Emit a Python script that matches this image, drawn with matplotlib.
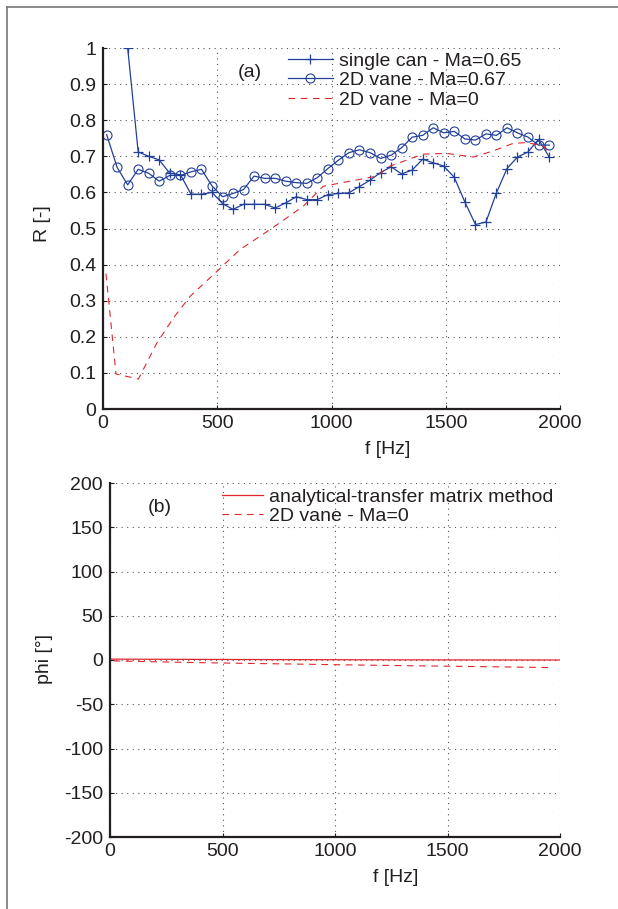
import matplotlib
matplotlib.use("Agg")
import matplotlib.pyplot as plt
from matplotlib.lines import Line2D

plt.rcParams['font.family'] = ['Liberation Sans', 'DejaVu Sans']
plt.rcParams['font.size'] = 14

# frequencies of the measured points [Hz]
freq = [16, 62, 108, 154, 200, 246, 292, 339, 385, 431, 477, 523, 569, 615,
        661, 707, 754, 800, 846, 892, 938, 984, 1030, 1076, 1122, 1169, 1215,
        1261, 1307, 1353, 1399, 1445, 1491, 1537, 1584, 1630, 1676, 1722,
        1768, 1814, 1860, 1906, 1953]

# single can - Ma=0.65 (starts at the third frequency)
freq_can = freq[2:]
R_can = [1.0, 0.712, 0.70, 0.69, 0.653, 0.649, 0.595, 0.595, 0.60, 0.569,
         0.553, 0.567, 0.567, 0.567, 0.557, 0.571, 0.588, 0.58, 0.58, 0.594,
         0.597, 0.599, 0.616, 0.634, 0.655, 0.671, 0.651, 0.662, 0.692,
         0.682, 0.673, 0.642, 0.573, 0.511, 0.518, 0.599, 0.666, 0.698,
         0.712, 0.747, 0.698]

# 2D vane - Ma=0.67
R_vane = [0.760, 0.669, 0.621, 0.664, 0.653, 0.631, 0.647, 0.647, 0.657,
          0.664, 0.618, 0.588, 0.597, 0.608, 0.645, 0.639, 0.639, 0.631,
          0.627, 0.625, 0.641, 0.666, 0.689, 0.710, 0.718, 0.710, 0.694,
          0.703, 0.724, 0.753, 0.758, 0.779, 0.765, 0.769, 0.748, 0.745,
          0.762, 0.758, 0.779, 0.765, 0.753, 0.731, 0.731]

# 2D vane - Ma=0
freq_m0 = [13, 57, 155, 235, 308, 381, 498, 600, 731, 877, 964, 1081, 1198,
           1256, 1402, 1504, 1621, 1708, 1796, 1854, 1927, 1956]
R_m0 = [0.375, 0.097, 0.083, 0.182, 0.252, 0.312, 0.381, 0.442, 0.497,
        0.562, 0.617, 0.631, 0.645, 0.673, 0.706, 0.708, 0.698, 0.715,
        0.736, 0.738, 0.729, 0.703]

# phase: analytical-transfer matrix method and 2D vane - Ma=0
freq_an = [0, 500, 1000, 1500, 2000]
phi_an = [1.0, 0.6, 0.3, 0.1, 0.0]
freq_phi = [16, 200, 400, 600, 800, 1000, 1200, 1400, 1600, 1800, 1953]
phi_m0 = [-1, -2, -3, -3.8, -4.5, -5.3, -6, -6.7, -7.3, -8, -8.5]

xticks = [0, 500, 1000, 1500, 2000]
R_ticks = [0, 0.1, 0.2, 0.3, 0.4, 0.5, 0.6, 0.7, 0.8, 0.9, 1]
R_labels = ['0', '0.1', '0.2', '0.3', '0.4', '0.5', '0.6', '0.7', '0.8', '0.9', '1']
phi_ticks = [-200, -150, -100, -50, 0, 50, 100, 150, 200]

blue = '#22409a'
red = '#e2262d'
dark = '#231f20'

W, H = 618, 909
fig = plt.figure(figsize=(W / 100, H / 100), dpi=100)

def fbox(l, t, r, b):
    return [l / W, 1 - b / H, (r - l) / W, (b - t) / H]

ax1 = fig.add_axes(fbox(103, 48, 560, 409))
ax2 = fig.add_axes(fbox(110, 483, 560, 837))

for ax in (ax1, ax2):
    for s in ('top', 'right'):
        ax.spines[s].set_visible(False)
    for s in ('left', 'bottom'):
        ax.spines[s].set_linewidth(1.6)
        ax.spines[s].set_color(dark)
    ax.grid(True, linestyle=(0, (1, 4)), color='#555555', linewidth=0.8)
    ax.tick_params(direction='in', length=3, width=0.8, colors=dark,
                   labelcolor=dark)
    ax.tick_params(axis='x', pad=4)
    ax.tick_params(axis='y', pad=5)
    ax.set_xlim(0, 2000)
    ax.set_xticks(xticks)
    ax.set_xticklabels([str(x) for x in xticks])

# (a)
ax1.plot(freq_can, R_can, color=blue, lw=0.9, marker='+', ms=7.5, mew=0.9,
         label='single can - Ma=0.65')
ax1.plot(freq, R_vane, color=blue, lw=0.9, marker='o', ms=6.5, mew=0.8,
         mfc='none', label='2D vane - Ma=0.67')
ax1.plot(freq_m0, R_m0, color=red, lw=0.8, dashes=(6, 5),
         label='2D vane - Ma=0')
ax1.set_ylim(0, 1)
ax1.set_yticks(R_ticks)
ax1.set_yticklabels(R_labels)
ax1.set_ylabel('R [-]', color=dark)
ax1.yaxis.set_label_coords((51 - 103) / 457, (409 - 224) / 361)
ax1.set_xlabel('f [Hz]', color=dark)
ax1.xaxis.set_label_coords((388 - 103) / 457, -(441 - 409) / 361)
ax1.text((250 - 103) / 457, (409 - 72) / 361, '(a)', transform=ax1.transAxes,
         ha='center', va='center', color=dark)
ax1.legend(loc='upper left', bbox_to_anchor=(288 / W, 1 - 52 / H),
           bbox_transform=fig.transFigure, frameon=False, borderpad=0,
           borderaxespad=0, handlelength=2.3, handletextpad=0.3,
           labelspacing=0.1, labelcolor=dark)

# (b)
ax2.plot(freq_an, phi_an, color=red, lw=0.9,
         label='analytical-transfer matrix method')
ax2.plot(freq_phi, phi_m0, color=red, lw=0.8, dashes=(6, 5),
         label='2D vane - Ma=0')
ax2.set_ylim(-200, 200)
ax2.set_yticks(phi_ticks)
ax2.set_yticklabels([str(p) for p in phi_ticks])
ax2.set_ylabel('phi [°]', color=dark)
ax2.yaxis.set_label_coords((53 - 110) / 450, (837 - 659) / 354)
ax2.set_xlabel('f [Hz]', color=dark)
ax2.xaxis.set_label_coords((396 - 110) / 450, -(869 - 837) / 354)
ax2.text((160 - 110) / 450, (837 - 507) / 354, '(b)', transform=ax2.transAxes,
         ha='center', va='center', color=dark)
ax2.legend(loc='upper left', bbox_to_anchor=(222 / W, 1 - 488 / H),
           bbox_transform=fig.transFigure, frameon=False, borderpad=0,
           borderaxespad=0, handlelength=2.1, handletextpad=0.3,
           labelspacing=0.1, labelcolor=dark)

# outer frame of the figure panel
fig.add_artist(Line2D([7 / W, 7 / W], [0, 1 - 7 / H], color='#777777',
                      lw=1.2, transform=fig.transFigure))
fig.add_artist(Line2D([7 / W, 1], [1 - 7 / H, 1 - 7 / H], color='#777777',
                      lw=1.2, transform=fig.transFigure))

fig.savefig('out.png', dpi=100)
